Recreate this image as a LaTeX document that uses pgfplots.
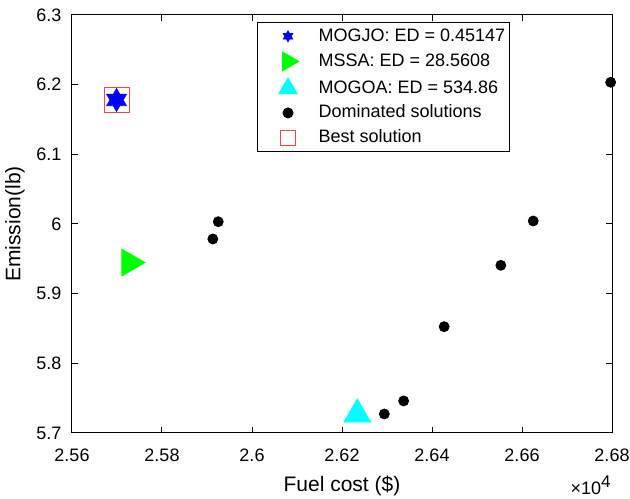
\documentclass[border=0pt]{standalone}
\usepackage{fontspec}
\setmainfont{Liberation Sans}
\usepackage{pgfplots}
\pgfplotsset{compat=1.18}
\definecolor{mblue}{rgb}{0,0,1}
\definecolor{mgreen}{rgb}{0,1,0}
\definecolor{mcyan}{rgb}{0,1,1}
\definecolor{mred}{rgb}{1,0.25,0.25}
\pgfdeclareplotmark{hexagram}{%
  \pgfpathmoveto{\pgfpointpolar{90}{\pgfplotmarksize}}%
  \pgfpathlineto{\pgfpointpolar{120}{0.57735\pgfplotmarksize}}%
  \pgfpathlineto{\pgfpointpolar{150}{\pgfplotmarksize}}%
  \pgfpathlineto{\pgfpointpolar{180}{0.57735\pgfplotmarksize}}%
  \pgfpathlineto{\pgfpointpolar{210}{\pgfplotmarksize}}%
  \pgfpathlineto{\pgfpointpolar{240}{0.57735\pgfplotmarksize}}%
  \pgfpathlineto{\pgfpointpolar{270}{\pgfplotmarksize}}%
  \pgfpathlineto{\pgfpointpolar{300}{0.57735\pgfplotmarksize}}%
  \pgfpathlineto{\pgfpointpolar{330}{\pgfplotmarksize}}%
  \pgfpathlineto{\pgfpointpolar{0}{0.57735\pgfplotmarksize}}%
  \pgfpathlineto{\pgfpointpolar{30}{\pgfplotmarksize}}%
  \pgfpathlineto{\pgfpointpolar{60}{0.57735\pgfplotmarksize}}%
  \pgfpathclose
  \pgfusepathqfillstroke
}
\begin{document}
\begin{tikzpicture}
\begin{axis}[
  name=ax,
  scale only axis, width=270bp, height=209bp,
  xmin=25600, xmax=26800, ymin=5.7, ymax=6.3,
  xtick={25600,25800,26000,26200,26400,26600,26800},
  ytick={5.7,5.8,5.9,6.0,6.1,6.2,6.3},
  scaled x ticks=base 10:-4,
  xtick scale label code/.code={\fontsize{9bp}{11bp}\selectfont ×10\textsuperscript{\fontsize{8.5bp}{10bp}\selectfont 4}},
  every x tick scale label/.style={at={(axis description cs:1,-0.1268)},anchor=base east,inner sep=0pt},
  tick align=inside,
  major tick length=3bp,
  tick style={black, line width=0.5bp},
  axis line style={line width=0.5bp},
  /pgf/number format/assume math mode=true,
  ticklabel style={font=\fontsize{9bp}{11bp}\selectfont},
  yticklabel style={xshift=-1.8bp},
  xticklabel style={yshift=-4.5bp},
  xlabel={Fuel cost (\$)}, ylabel={Emission(lb)},
  label style={font=\fontsize{10.5bp}{12bp}\selectfont},
  xlabel style={at={(axis description cs:0.5,-0.1411)},anchor=base},
  ylabel style={at={(axis description cs:-0.1056,0.5)},anchor=center,rotate=0},
  legend style={at={(0.3426,0.983)},anchor=north west,
    font=\fontsize{9bp}{10bp}\selectfont, draw=black, line width=0.5bp,
    inner sep=2.35bp, row sep=3.3bp, column sep=2.35bp,
    nodes={inner sep=0pt, text height=7bp, text depth=2bp}},
  legend cell align=left,
  legend image code/.code={\path (-12.65bp,0bp) (12.65bp,0bp); \draw[#1] plot coordinates {(0bp,0bp)};},
]
\addplot[only marks, mark=hexagram, mark size=5.75bp, draw=mblue, fill=mblue, line width=0.3bp,
  legend image post style={mark size=2.8bp}]
  coordinates {(25699,6.178)};
\addlegendentry{MOGJO: ED = 0.45147}
\addplot[only marks, mark=triangle*, mark size=7.8bp, draw=mgreen, fill=mgreen, line width=0.3bp,
  mark options={rotate=-90}, legend image post style={mark size=5.5bp}]
  coordinates {(25728,5.9446)};
\addlegendentry{MSSA: ED = 28.5608}
\addplot[only marks, mark=triangle*, mark size=7.8bp, draw=mcyan, fill=mcyan, line width=0.3bp,
  legend image post style={mark size=5.4bp}]
  coordinates {(26234,5.7267)};
\addlegendentry{MOGOA: ED = 534.86}
\addplot[only marks, mark=*, mark size=2.5bp, draw=black, fill=black,
  legend image post style={mark size=2.5bp}]
  coordinates {
    (25925,6.0033) (25913,5.9785) (26294,5.7273) (26337,5.746)
    (26427,5.8526) (26553,5.9407) (26625,6.0043) (26797,6.2034)
  };
\addlegendentry{Dominated solutions}
\addplot[only marks, mark=square, mark size=6.25bp, draw=mred, line width=0.5bp,
  legend image post style={mark size=3.75bp}]
  coordinates {(25699,6.178)};
\addlegendentry{Best solution}
\end{axis}
\pgfresetboundingbox
\path[use as bounding box] ([xshift=-36bp,yshift=-33bp]ax.south west) rectangle ([xshift=9bp,yshift=7.5bp]ax.north east);
\end{tikzpicture}
\end{document}
